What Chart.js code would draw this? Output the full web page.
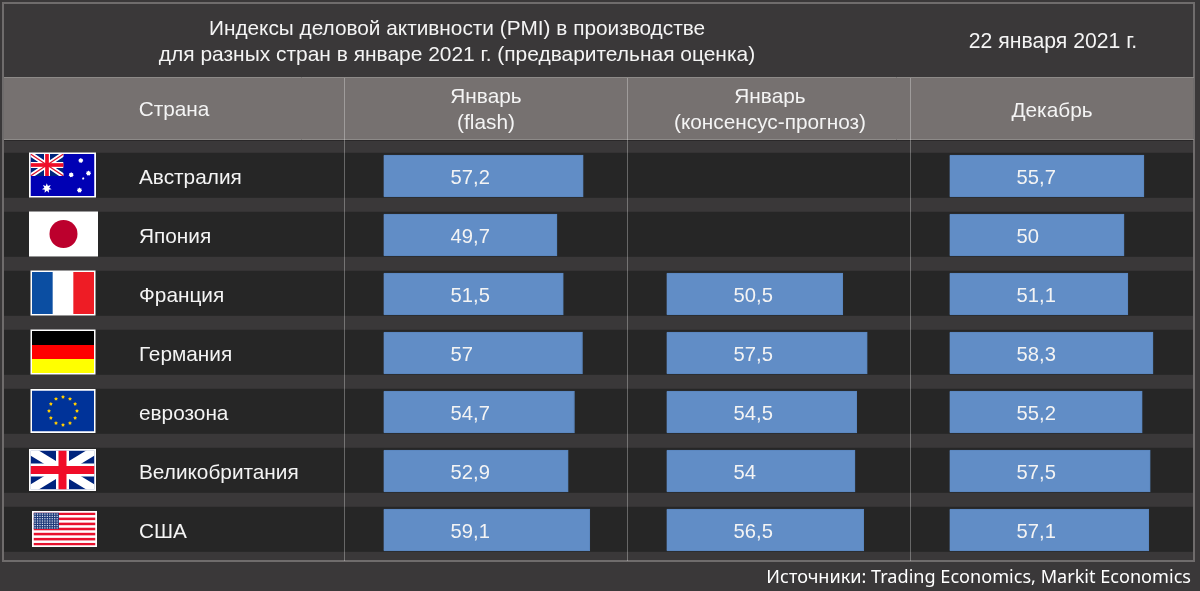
<!DOCTYPE html>
<html lang="ru">
<head>
<meta charset="utf-8">
<title>PMI</title>
<script src="https://cdn.jsdelivr.net/npm/chart.js@4"></script>
<style>
html, body { margin: 0; padding: 0; background: #3a3839; }
#wrap { position: relative; width: 1200px; height: 591px; overflow: hidden; font-family: "Liberation Sans", Arial, sans-serif; color: #f4f4f4; }
canvas { position: absolute; left: 0; top: 0; }
.t { position: absolute; font-size: 20.8px; line-height: 26px; text-align: center; white-space: nowrap; transform: translateX(-50%); }
#source { position: absolute; right: 9px; top: 564px; font-family: "Noto Sans", sans-serif; font-size: 18.1px; line-height: 24px; color: #fff; white-space: nowrap; }
</style>
</head>
<body>
<div id="wrap">
	<canvas id="pmiChart" width="1200" height="591"></canvas>
	<div class="t" style="left:457px; top:15px">Индексы деловой активности (PMI) в производстве<br><span style="font-size:20.95px">для разных стран в январе 2021 г. (предварительная оценка)</span></div>
	<div class="t" style="left:1053px; top:28px; font-size:21.2px">22 января 2021 г.</div>
	<div class="t" style="left:174px; top:96px">Страна</div>
	<div class="t" style="left:486px; top:83px">Январь<br>(flash)</div>
	<div class="t" style="left:770px; top:83px">Январь<br>(консенсус-прогноз)</div>
	<div class="t" style="left:1052px; top:97px">Декабрь</div>
	<div id="source">Источники: Trading Economics, Markit Economics</div>
</div>
<script>
const countries = ['Австралия', 'Япония', 'Франция', 'Германия', 'еврозона', 'Великобритания', 'США'];
const flashValues = [57.2, 49.7, 51.5, 57, 54.7, 52.9, 59.1];
const consensusValues = [null, null, 50.5, 57.5, 54.5, 54, 56.5];
const decemberValues = [55.7, 50, 51.1, 58.3, 55.2, 57.5, 57.1];
const seriesNames = ['Январь (flash)', 'Январь (консенсус-прогноз)', 'Декабрь'];

const BG = '#3a3839';
const HEADER = '#767170';
const LINE = '#6f6c6c';
const BAND = '#262626';
const BAR = '#618dc6';

// шкала одинаковая в каждой колонке, 3.49 px на единицу
const columnScale = { type: 'linear', display: false, stack: 'columns', stackWeight: 1, position: 'bottom', min: -11.05, max: 70.03 };

function star(c, x, y, r, n, inner) {
	c.beginPath();
	for (let i = 0; i < n * 2; i++) {
		const a = -Math.PI / 2 + i * Math.PI / n;
		const rr = i % 2 ? r * inner : r;
		c.lineTo(x + Math.cos(a) * rr, y + Math.sin(a) * rr);
	}
	c.closePath();
	c.fill();
}

function unionJack(c, x, y, w, h, red, fim) {
	c.fillStyle = '#00247d';
	c.fillRect(x, y, w, h);
	c.strokeStyle = '#fff';
	c.lineWidth = h * 0.22;
	c.beginPath();
	c.moveTo(x, y); c.lineTo(x + w, y + h);
	c.moveTo(x + w, y); c.lineTo(x, y + h);
	c.stroke();
	c.fillStyle = '#fff';
	c.fillRect(x + w / 2 - fim, y, fim * 2, h);
	c.fillRect(x, y + h / 2 - fim, w, fim * 2);
	c.fillStyle = '#f00c28';
	c.fillRect(x + w / 2 - red, y, red * 2, h);
	c.fillRect(x, y + h / 2 - red, w, red * 2);
}

// x, ширина, высота и рисование флага внутри белой рамки
const flags = [
	{ x: 29, w: 67, h: 45, draw(c, x, y, w, h) {
		c.fillStyle = '#0000b4';
		c.fillRect(x, y, w, h);
		c.save();
		c.beginPath(); c.rect(x, y, 33, 22); c.clip();
		unionJack(c, x, y, 33, 22, 1.6, 3);
		c.strokeStyle = '#e0102a';
		c.lineWidth = 1.2;
		c.beginPath();
		c.moveTo(x, y); c.lineTo(x + 33, y + 22);
		c.moveTo(x + 33, y); c.lineTo(x, y + 22);
		c.stroke();
		c.fillStyle = '#f00c28';
		c.fillRect(x + 14.9, y, 3.2, 22);
		c.fillRect(x, y + 9.4, 33, 3.2);
		c.restore();
		c.fillStyle = '#fff';
		star(c, x + 16.3, y + 34.2, 5, 7, 0.5);
		star(c, x + 50.3, y + 6.5, 2.6, 7, 0.75);
		star(c, x + 40.7, y + 20.8, 2.6, 7, 0.75);
		star(c, x + 58, y + 19.2, 2.6, 7, 0.75);
		star(c, x + 52.7, y + 24.5, 1.4, 5, 0.6);
		star(c, x + 49, y + 36.2, 2.6, 7, 0.75);
	} },
	{ x: 29, w: 69, h: 45, draw(c, x, y, w, h) {
		c.fillStyle = '#fff';
		c.fillRect(x, y, w, h);
		c.fillStyle = '#bc002d';
		c.beginPath();
		c.arc(x + w / 2, y + h / 2, 14, 0, Math.PI * 2);
		c.fill();
	} },
	{ x: 30.5, w: 65, h: 45, draw(c, x, y, w, h) {
		c.fillStyle = '#fff';
		c.fillRect(x, y, w, h);
		c.fillStyle = '#0b4ea2';
		c.fillRect(x, y, w / 3, h);
		c.fillStyle = '#ee1c25';
		c.fillRect(x + w * 2 / 3, y, w / 3, h);
	} },
	{ x: 30.5, w: 65, h: 45, draw(c, x, y, w, h) {
		c.fillStyle = '#000';
		c.fillRect(x, y, w, h / 3);
		c.fillStyle = '#f00';
		c.fillRect(x, y + h / 3, w, h / 3);
		c.fillStyle = '#ff0';
		c.fillRect(x, y + h * 2 / 3, w, h / 3);
	} },
	{ x: 30.5, w: 65, h: 44, draw(c, x, y, w, h) {
		c.fillStyle = '#003399';
		c.fillRect(x, y, w, h);
		c.fillStyle = '#ffcc00';
		for (let i = 0; i < 12; i++) {
			const a = i * Math.PI / 6;
			star(c, x + w / 2 + Math.cos(a) * 14, y + h / 2 + Math.sin(a) * 14, 2, 5, 0.6);
		}
	} },
	{ x: 29, w: 67, h: 42, draw(c, x, y, w, h) {
		unionJack(c, x, y, w, h, 4, 6.5);
	} },
	{ x: 32, w: 65, h: 36, draw(c, x, y, w, h) {
		c.fillStyle = '#fff';
		c.fillRect(x, y, w, h);
		c.fillStyle = '#e8112d';
		for (let i = 0; i < 13; i += 2) {
			c.fillRect(x, y + i * h / 13, w, h / 13);
		}
		c.fillStyle = '#1f3a7a';
		c.fillRect(x, y, w * 0.41, h * 0.5);
		c.fillStyle = '#dfe4f0';
		for (let i = 0; i < 10; i++) {
			for (let j = 0; j < 7; j++) {
				c.fillRect(x + 1 + i * 2.45, y + 1 + j * 2.3, 1.2, 1.2);
			}
		}
	} }
];

// фон таблицы: шапка, полосы строк, линии колонок
const tablePlugin = {
	id: 'tablePlugin',
	beforeDatasetsDraw(chart) {
		const c = chart.ctx;
		const yScale = chart.scales.y;
		c.save();
		c.fillStyle = BG;
		c.fillRect(0, 0, chart.width, chart.height);
		c.fillStyle = HEADER;
		c.fillRect(4, 78, 1190, 61);
		countries.forEach((name, i) => {
			c.fillStyle = BAND;
			c.fillRect(4, yScale.getPixelForValue(i) - 23.2, 1190, 45);
		});
		c.fillStyle = '#2a2829';
		c.fillRect(4, 140, 1190, 1);
		c.strokeStyle = LINE;
		c.lineWidth = 2;
		c.strokeRect(3, 3, 1191, 558);
		c.strokeStyle = '#8d8a88';
		c.lineWidth = 1;
		c.beginPath();
		c.moveTo(4, 77.5); c.lineTo(1194, 77.5);
		c.moveTo(4, 139.5); c.lineTo(1194, 139.5);
		c.stroke();
		c.strokeStyle = 'rgba(255,255,255,0.3)';
		c.beginPath();
		['x1', 'x2', 'x3'].forEach(id => {
			const x = Math.round(chart.scales[id].left) - 0.5;
			c.moveTo(x, 78); c.lineTo(x, 561);
		});
		c.stroke();
		flags.forEach((f, i) => {
			const y = yScale.getPixelForValue(i) - 1 - f.h / 2;
			c.fillStyle = '#fff';
			c.fillRect(f.x, y, f.w, f.h);
			c.save();
			c.beginPath();
			c.rect(f.x + 1.5, y + 1.5, f.w - 3, f.h - 3);
			c.clip();
			f.draw(c, f.x + 1.5, y + 1.5, f.w - 3, f.h - 3);
			c.restore();
		});
		c.restore();
		// шкала y рисуется раньше, поэтому подписи стран поверх фона
		yScale.draw(chart.chartArea);
	},
	afterDatasetsDraw(chart) {
		const c = chart.ctx;
		c.save();
		c.fillStyle = '#f4f4f4';
		c.font = '20.2px "Liberation Sans", Arial, sans-serif';
		c.textBaseline = 'middle';
		c.textAlign = 'left';
		chart.data.datasets.forEach(ds => {
			const scale = chart.scales[ds.xAxisID];
			ds.data.forEach((v, i) => {
				if (v === null) return;
				c.fillText(String(v).replace('.', ','), scale.getPixelForValue(0) + 67, chart.scales.y.getPixelForValue(i) + 2);
			});
		});
		c.restore();
	}
};

const barStyle = { backgroundColor: BAR, borderColor: '#5a86be', borderWidth: 1, barThickness: 42, grouped: false };

new Chart(document.getElementById('pmiChart'), {
	type: 'bar',
	data: {
		labels: countries,
		datasets: [
			{ label: seriesNames[0], data: flashValues, xAxisID: 'x1', ...barStyle },
			{ label: seriesNames[1], data: consensusValues, xAxisID: 'x2', ...barStyle },
			{ label: seriesNames[2], data: decemberValues, xAxisID: 'x3', ...barStyle }
		]
	},
	options: {
		indexAxis: 'y',
		responsive: false,
		animation: false,
		layout: { padding: { left: 139, right: 6, top: 146.5, bottom: 31.5 } },
		plugins: { legend: { display: false }, tooltip: { enabled: false }, title: { display: false } },
		scales: {
			x1: { ...columnScale },
			x2: { ...columnScale },
			x3: { ...columnScale },
			y: {
				type: 'category',
				position: 'left',
				grid: { display: false, drawTicks: false },
				border: { display: false },
				ticks: { color: '#f4f4f4', crossAlign: 'far', padding: 0, labelOffset: 2.5, font: { size: 20.8, family: '"Liberation Sans", Arial, sans-serif' } },
				afterFit(scale) { scale.width = 206; }
			}
		}
	},
	plugins: [tablePlugin]
});
</script>
</body>
</html>
